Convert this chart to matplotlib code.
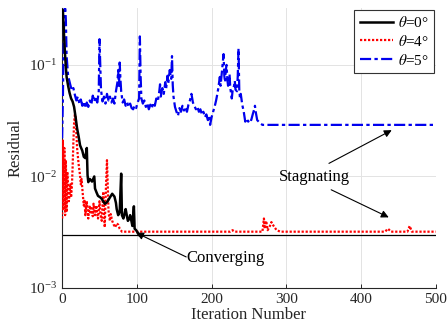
import matplotlib
matplotlib.use("Agg")
import matplotlib.pyplot as plt
from matplotlib.ticker import LogLocator, LogFormatterSciNotation, NullLocator

plt.rcParams['font.family'] = ['Liberation Serif', 'DejaVu Serif']
plt.rcParams['mathtext.fontset'] = 'stix'

# Residual history, theta = 0 deg
it0 = [0, 1, 2, 3, 4, 5, 6, 8, 10, 12, 14, 16, 18, 20, 22, 24, 27, 29, 31, 33,
       34, 35, 37, 40, 43, 44, 46, 48, 51, 53, 55, 57, 59, 61, 64, 67, 70, 72,
       73, 75, 77, 79, 80, 82, 84, 85, 87, 88, 90, 91, 93, 94, 96, 97, 99, 103]
res0 = [0.30, 0.31, 0.22, 0.16, 0.12, 0.095, 0.078, 0.065, 0.056, 0.050, 0.047,
        0.042, 0.034, 0.027, 0.023, 0.019, 0.017, 0.015, 0.0146, 0.018, 0.0103,
        0.0089, 0.0095, 0.0090, 0.0100, 0.0078, 0.0072, 0.0067, 0.0065, 0.0063,
        0.0060, 0.0057, 0.0058, 0.0060, 0.0065, 0.0070, 0.0066, 0.0058, 0.0051,
        0.0045, 0.0048, 0.0106, 0.0045, 0.0042, 0.0048, 0.0051, 0.0043, 0.0040,
        0.0042, 0.0045, 0.0039, 0.0036, 0.0054, 0.0034, 0.0033, 0.0030]

# Residual history, theta = 4 deg
it4 = [0, 1, 2, 3, 4, 5, 6, 7, 8, 9, 10, 11, 12, 13, 14, 15, 16, 17, 18, 19,
       20, 22, 24, 25, 26, 27, 28, 29, 30, 31, 32, 33, 34, 35, 36, 37, 38, 39,
       40, 41, 42, 43, 44, 45, 46, 47, 48, 49, 50, 51, 52, 53, 54, 55, 56, 57,
       58, 59, 60, 61, 62, 63, 64, 65, 67, 69, 71, 73, 75, 77, 80,
       225, 228, 231, 268, 270, 271, 273, 275, 278, 280, 283, 287, 292,
       432, 436, 440, 462, 465, 468, 500]
res4 = [0.0042, 0.021, 0.0050, 0.018, 0.0045, 0.014, 0.0048, 0.011, 0.0078,
        0.0060, 0.0070, 0.0085, 0.0065, 0.0080, 0.012, 0.020, 0.030, 0.036,
        0.034, 0.025, 0.018, 0.013, 0.0102, 0.0085, 0.0095, 0.0078, 0.0065,
        0.0055, 0.0062, 0.0045, 0.0052, 0.0060, 0.0048, 0.0042, 0.0050, 0.0055,
        0.0046, 0.0052, 0.0048, 0.0044, 0.0057, 0.0050, 0.0045, 0.0052, 0.0055,
        0.0046, 0.0042, 0.0050, 0.0060, 0.0048, 0.0043, 0.0040, 0.0055, 0.0073,
        0.0048, 0.0035, 0.0060, 0.0095, 0.014, 0.0085, 0.0050, 0.0043, 0.0040,
        0.0046, 0.0040, 0.0037, 0.0035, 0.0038, 0.0037, 0.0034, 0.0032,
        0.0032, 0.0033, 0.0032, 0.0032, 0.0042, 0.0034, 0.0040, 0.0033, 0.0036,
        0.0039, 0.0036, 0.0033, 0.0032,
        0.0032, 0.0034, 0.0032, 0.0032, 0.0036, 0.0032, 0.0032]

# Residual history, theta = 5 deg
it5 = [0, 1, 2, 3, 4, 5, 6, 8, 11, 13, 15,
       17, 19, 21, 23, 25, 27, 29, 31, 33, 35, 37, 39, 41, 43, 45, 47, 49, 50,
       51, 52, 54, 56, 58, 60, 62, 64, 66, 68, 70, 72, 74, 75, 76, 77, 78, 79,
       81, 83, 85, 87, 89, 91, 93, 95, 97, 99, 101, 103, 104, 105, 106, 108,
       110, 112, 114, 116, 118, 120, 122, 124, 126, 128, 130, 131, 132, 134,
       136, 138, 139, 141, 142, 144, 146, 147, 148, 149, 151, 153, 155, 157,
       159, 161, 163, 165, 167, 169, 171, 173, 175, 177, 179, 181, 183, 185,
       187, 189, 191, 193, 195, 197, 198, 200, 202, 204, 206, 207, 209, 210,
       211, 212, 214, 216, 217, 218, 219, 220, 221, 222, 224, 225, 227, 228,
       230, 231, 232, 234, 235, 236, 237, 238, 239, 241, 243, 245, 247, 249,
       251, 253, 255, 257, 258, 259, 261, 263, 265, 268, 500]
res5 = [0.022, 0.05, 0.15, 0.30, 0.36, 0.25, 0.12, 0.080, 0.066, 0.059, 0.062,
        0.054, 0.048, 0.052, 0.045, 0.049, 0.043, 0.047, 0.041, 0.046, 0.042,
        0.048, 0.044, 0.053, 0.047, 0.052, 0.046, 0.058, 0.17,
        0.10, 0.060, 0.047, 0.052, 0.045, 0.055, 0.048, 0.052, 0.046, 0.050,
        0.045, 0.058, 0.070, 0.090, 0.062, 0.105, 0.075, 0.058,
        0.046, 0.049, 0.043, 0.046, 0.042, 0.045, 0.041, 0.040, 0.043, 0.041,
        0.046, 0.050, 0.18, 0.080, 0.050, 0.045,
        0.048, 0.042, 0.045, 0.040, 0.044, 0.041, 0.046, 0.043, 0.050, 0.047,
        0.058, 0.067, 0.052, 0.062,
        0.055, 0.070, 0.060, 0.080, 0.068, 0.090, 0.075, 0.12, 0.066, 0.052,
        0.042, 0.038, 0.035, 0.041,
        0.038, 0.043, 0.039, 0.042, 0.038, 0.044, 0.048, 0.055, 0.046, 0.043,
        0.040, 0.042, 0.038, 0.040,
        0.036, 0.038, 0.034, 0.036, 0.032, 0.035, 0.029, 0.034, 0.038, 0.042,
        0.048, 0.052, 0.062, 0.070,
        0.078, 0.065, 0.090, 0.125, 0.080, 0.070, 0.090, 0.100, 0.075, 0.065,
        0.082, 0.062, 0.050, 0.058,
        0.065, 0.072, 0.060, 0.058, 0.080, 0.14, 0.060, 0.050, 0.055, 0.044,
        0.038, 0.031, 0.033, 0.031,
        0.033, 0.032, 0.036, 0.040, 0.043, 0.038, 0.032, 0.031, 0.030, 0.029,
        0.029]

converged_level = 0.003
xticks = [0, 100, 200, 300, 400, 500]

fig = plt.figure(figsize=(4.47, 3.33), dpi=100)
ax = fig.add_axes([0.139, 0.135, 0.836, 0.841])

ax.axhline(converged_level, color='black', lw=0.9, zorder=2)
ax.plot(it4, res4, color='red', lw=1.6, ls=(0, (1, 0.8)), label=r'$\theta$=4°', zorder=3)
ax.plot(it0, res0, color='black', lw=1.8, ls='-', label=r'$\theta$=0°', zorder=4)
ax.plot(it5, res5, color='#0000ee', lw=1.6, ls=(0, (5, 1.5, 1.5, 1.5)),
        label=r'$\theta$=5°', zorder=3)

ax.set_yscale('log')
ax.set_xlim(0, 500)
ax.set_ylim(1e-3, 10 ** -0.49)
ax.set_xticks(xticks)
ax.yaxis.set_major_locator(LogLocator(base=10, numticks=10))
ax.yaxis.set_major_formatter(LogFormatterSciNotation())
ax.yaxis.set_minor_locator(NullLocator())
ax.tick_params(direction='in', length=3, width=0.7, labelsize=11, colors='#262626')
ax.grid(True, color='#e3e3e3', lw=0.7)
ax.set_axisbelow(True)
for side in ('top', 'right'):
    ax.spines[side].set_visible(False)
for side in ('left', 'bottom'):
    ax.spines[side].set_color('#262626')
    ax.spines[side].set_linewidth(0.8)

ax.set_xlabel('Iteration Number', fontsize=12, color='#262626', labelpad=1)
ax.set_ylabel('Residual', fontsize=12, color='#262626', labelpad=4)

handles, labels = ax.get_legend_handles_labels()
order = [labels.index(r'$\theta$=0°'), labels.index(r'$\theta$=4°'),
         labels.index(r'$\theta$=5°')]
leg = ax.legend([handles[i] for i in order], [labels[i] for i in order],
                loc='upper right', bbox_to_anchor=(1.0, 1.0), borderaxespad=0.1,
                fontsize=11, handlelength=2.2, handletextpad=0.3,
                labelspacing=0.25, borderpad=0.35, fancybox=False,
                framealpha=1)
leg.get_frame().set_edgecolor('#333333')
leg.get_frame().set_linewidth(0.8)

arrow = dict(arrowstyle='-|>', color='black', lw=0.8, mutation_scale=11,
             shrinkA=0, shrinkB=0)
ax.annotate('', xy=(441, 0.026), xytext=(357, 0.0131), arrowprops=arrow)
ax.annotate('', xy=(437, 0.0043), xytext=(360, 0.0076), arrowprops=arrow)
ax.text(337, 0.0098, 'Stagnating', fontsize=12, ha='center', va='center')
ax.annotate('', xy=(99, 0.00313), xytext=(166, 0.0019), arrowprops=arrow)
ax.text(219, 0.00186, 'Converging', fontsize=12, ha='center', va='center')

fig.savefig('out.png', dpi=100)
